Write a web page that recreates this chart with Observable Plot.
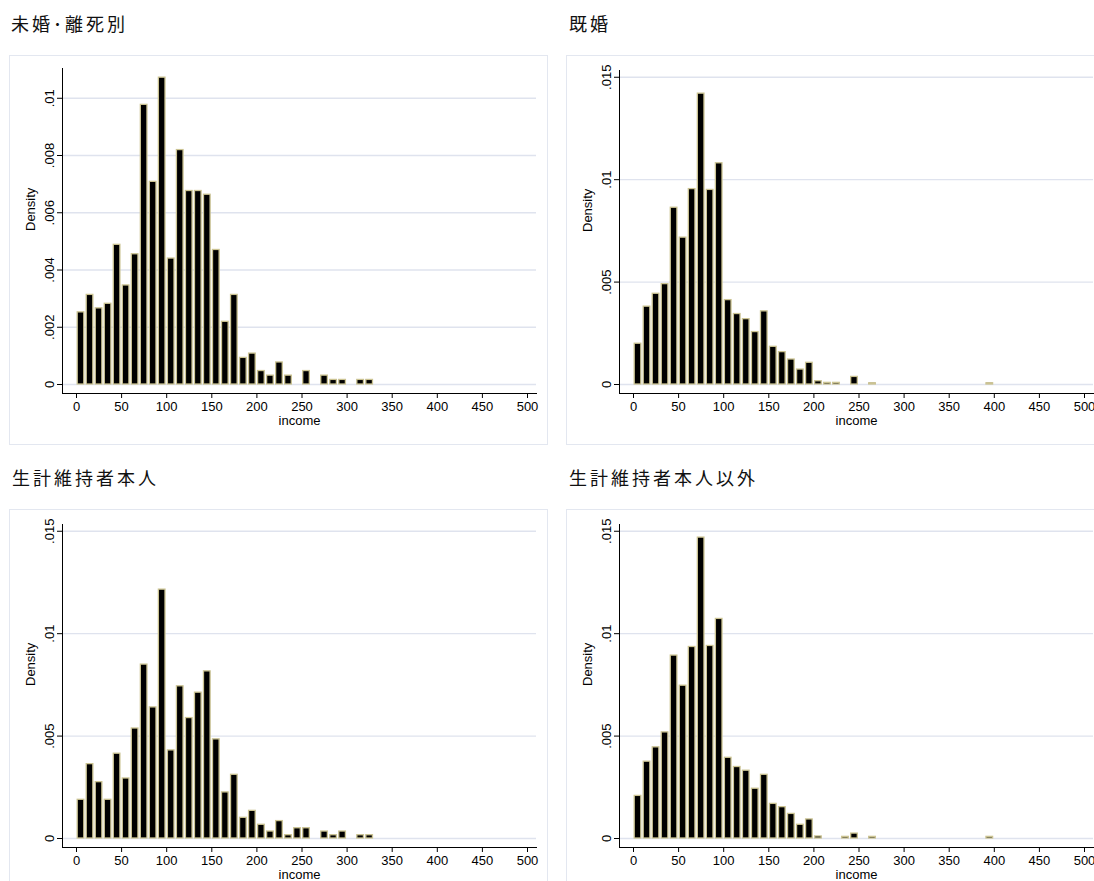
<!DOCTYPE html>
<html>
<head>
<meta charset="utf-8">
<script src="https://cdn.jsdelivr.net/npm/d3@7"></script>
<script src="https://cdn.jsdelivr.net/npm/@observablehq/plot@0.6"></script>
<style>
html,body{margin:0;padding:0;background:#fff;overflow:hidden;}
#root{position:relative;width:1094px;height:881px;overflow:hidden;background:#fff;}
.title{position:absolute;font-family:"Noto Sans CJK JP","Noto Sans CJK SC",sans-serif;font-size:18px;letter-spacing:3px;color:#111;line-height:18px;white-space:nowrap;}
.panel{position:absolute;width:539px;height:390px;}
.panel svg{outline:1px solid #e3e7f0;outline-offset:-1px;display:block;}
</style>
</head>
<body>
<div id="root"></div>
<script>
// ---- data ----
const titles = ["未婚･離死別", "既婚", "生計維持者本人", "生計維持者本人以外"];
const binStart = [0,10,20,30,40,50,60,70,80,90,100,110,120,130,140,150,160,170,180,190,200,
                  210,220,230,240,250,260,270,280,290,300,310,320,330,340,350,360,370,380,390,400];
const binWidth = 10;
const densUnmarried = [0.00252,0.00313,0.00266,0.00282,0.00488,0.00346,0.00455,0.00977,0.00708,0.01072,
  0.00440,0.00819,0.00676,0.00676,0.00663,0.00470,0.00219,0.00313,0.00093,0.00108,
  0.00047,0.00031,0.00077,0.00031,0,0.00047,0,0.00031,0.00016,0.00016,
  0,0.00016,0.00016,0,0,0,0,0,0,0,0];
const densMarried = [0.00199,0.00380,0.00443,0.00490,0.00863,0.00717,0.00954,0.01420,0.00950,0.01080,
  0.00412,0.00344,0.00319,0.00256,0.00357,0.00184,0.00158,0.00122,0.00073,0.00106,
  0.00016,0.00008,0.00008,0,0.00037,0,0.00006,0,0,0,
  0,0,0,0,0,0,0,0,0,0.00006,0];
const densHead = [0.00189,0.00363,0.00275,0.00189,0.00414,0.00293,0.00537,0.00849,0.00640,0.01215,
  0.00430,0.00743,0.00588,0.00712,0.00816,0.00484,0.00225,0.00311,0.00101,0.00135,
  0.00067,0.00034,0.00085,0.00016,0.00050,0.00050,0,0.00034,0.00016,0.00034,
  0,0.00016,0.00016,0,0,0,0,0,0,0,0];
const densNonHead = [0.00208,0.00375,0.00445,0.00518,0.00893,0.00746,0.00935,0.01469,0.00940,0.01072,
  0.00394,0.00349,0.00331,0.00243,0.00311,0.00169,0.00153,0.00120,0.00067,0.00093,
  0.00010,0,0,0.00008,0.00024,0,0.00008,0,0,0,
  0,0,0,0,0,0,0,0,0,0.00008,0];
const xTicks = [0,50,100,150,200,250,300,350,400,450,500];
const xTickLabels = ["0","50","100","150","200","250","300","350","400","450","500"];
const yTicksA = [0,0.002,0.004,0.006,0.008,0.01];
const yTickLabelsA = ["0",".002",".004",".006",".008",".01"];
const yTicksB = [0,0.005,0.01,0.015];
const yTickLabelsB = ["0",".005",".01",".015"];
const xLabel = "income";
const yLabel = "Density";

const panels = [
  {title: titles[0], dens: densUnmarried, yTicks: yTicksA, yLabels: yTickLabelsA, yMax: 0.01104, top: 13, left: 9, y: 55, tx: 11},
  {title: titles[1], dens: densMarried, yTicks: yTicksB, yLabels: yTickLabelsB, yMax: 0.01533, top: 15, left: 566, y: 55, tx: 569},
  {title: titles[2], dens: densHead, yTicks: yTicksB, yLabels: yTickLabelsB, yMax: 0.01533, top: 15, left: 9, y: 509, tx: 12},
  {title: titles[3], dens: densNonHead, yTicks: yTicksB, yLabels: yTickLabelsB, yMax: 0.01533, top: 15, left: 566, y: 509, tx: 569}
];

const root = document.getElementById("root");
for (const p of panels) {
  const t = document.createElement("div");
  t.className = "title";
  t.textContent = p.title;
  t.style.left = p.tx + "px";
  t.style.top = (p.y - 41) + "px";
  root.appendChild(t);

  const data = binStart.map((b, i) => ({x1: b, x2: b + binWidth, y: p.dens[i]})).filter(d => d.y > 0);
  const chart = Plot.plot({
    width: 539,
    height: 390,
    marginLeft: 53,
    marginRight: 12,
    marginTop: p.top,
    marginBottom: 52,
    x: {domain: [0, 500], insetLeft: 14, insetRight: 9},
    y: {domain: [0, p.yMax], insetBottom: 9},
    style: {fontFamily: "'Liberation Sans', Arial, sans-serif", fontSize: "13px", color: "#000", background: "#fff"},
    marks: [
      Plot.gridY(p.yTicks, {stroke: "#dfe3ee", strokeOpacity: 1, strokeWidth: 1.3}),
      Plot.rectY(data, {x1: "x1", x2: "x2", y: "y", fill: "#000", stroke: "#cbc392", strokeWidth: 1.3, insetLeft: 1.2, insetRight: 1.2}),
      Plot.frame({anchor: "left", stroke: "#000"}),
      Plot.frame({anchor: "bottom", stroke: "#000"}),
      Plot.axisX({ticks: xTicks, tickSize: 5, tickPadding: 3, label: null, fontSize: 13,
                  tickFormat: d => xTickLabels[xTicks.indexOf(d)]}),
      Plot.axisY({ticks: p.yTicks, tickSize: 5, tickRotate: -90, label: null, fontSize: 13,
                  tickFormat: d => p.yLabels[p.yTicks.indexOf(d)]}),
      Plot.text([yLabel], {frameAnchor: "left", rotate: -90, dx: -32, fontSize: 13}),
      Plot.text([xLabel], {frameAnchor: "bottom", dy: 31, fontSize: 13})
    ]
  });
  const wrap = document.createElement("div");
  wrap.className = "panel";
  wrap.style.left = p.left + "px";
  wrap.style.top = p.y + "px";
  wrap.appendChild(chart);
  root.appendChild(wrap);
}
</script>
</body>
</html>
